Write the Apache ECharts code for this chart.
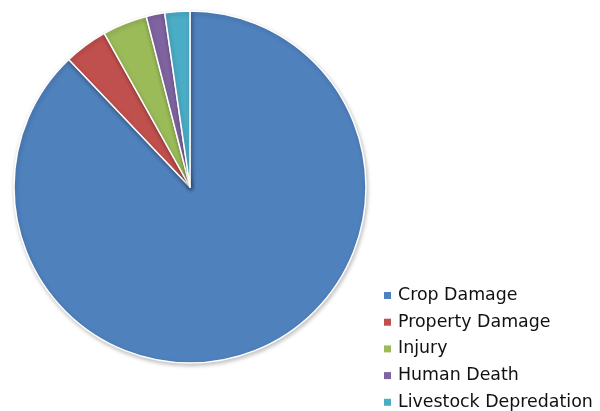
<!DOCTYPE html>
<html>
<head>
<meta charset="utf-8">
<script src="https://cdn.jsdelivr.net/npm/echarts@6/dist/echarts.min.js"></script>
<style>html,body{margin:0;padding:0;background:#fff;}#c{width:600px;height:411px;}</style>
</head>
<body>
<div id="c"></div>
<script>
const categories = ['Crop Damage', 'Property Damage', 'Injury', 'Human Death', 'Livestock Depredation'];
const values = [87.9, 4.0, 4.1, 1.7, 2.3];
const colors = ['#4F81BD', '#C0504D', '#9BBB59', '#8064A2', '#4BACC6'];

const chart = echarts.init(document.getElementById('c'));
chart.setOption({
  animation: false,
  color: colors,
  legend: {
    orient: 'vertical',
    left: 384,
    top: 287,
    height: 160,
    padding: 0,
    icon: 'rect',
    itemWidth: 7,
    itemHeight: 7,
    itemGap: 9.7,
    itemStyle: { borderWidth: 0, shadowBlur: 0, shadowOffsetX: 0, shadowOffsetY: 0 },
    textStyle: { fontFamily: 'DejaVu Sans', fontSize: 17.4, color: '#111', padding: [0, 0, 0, 2] },
    data: categories
  },
  series: [{
    type: 'pie',
    center: [190, 187],
    radius: 176,
    startAngle: 90,
    clockwise: true,
    label: { show: false },
    labelLine: { show: false },
    itemStyle: {
      borderColor: '#fff',
      borderWidth: 1.5,
      shadowBlur: 4,
      shadowColor: 'rgba(0,0,0,0.25)',
      shadowOffsetX: 1,
      shadowOffsetY: 2
    },
    data: categories.map((n, i) => ({ name: n, value: values[i] }))
  }]
});
</script>
</body>
</html>
